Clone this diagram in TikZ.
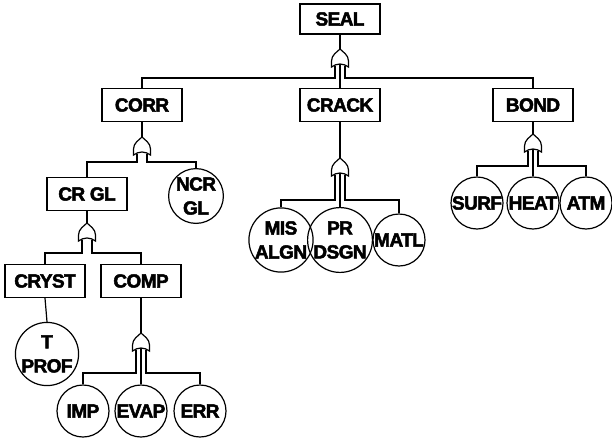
\documentclass[tikz,border=0pt]{standalone}
\usepackage{fontspec}
\setmainfont{Liberation Sans}[BoldFeatures={FakeBold=2.5,LetterSpace=-3}]
\begin{document}
\begin{tikzpicture}[x=1pt,y=-1pt,
  txt/.style={font=\bfseries\fontsize{19}{24}\selectfont},
  evbox/.style={txt, draw, line width=1.2pt, minimum width=80pt, minimum height=33pt, inner sep=0pt},
  basic/.style={txt, draw, circle, line width=1.2pt, minimum size=52pt, inner sep=0pt, align=center},
  conn/.style={line width=1.2pt},
  gate/.style={line width=1.2pt, fill=white},
  orgate/.pic={
    \draw[gate] (-8.5,9) -- (-8.5,3) .. controls (-8.5,-3) and (-3,-6) .. (0,-9)
       .. controls (3,-6) and (8.5,-3) .. (8.5,3) -- (8.5,9)
       .. controls (3,5) and (-3,5) .. cycle;
    \coordinate (-top) at (0,-9);
    \coordinate (-l) at (-5,7.6);
    \coordinate (-c) at (0,6.2);
    \coordinate (-r) at (5,7.6);
  }
]
\useasboundingbox (0,0) rectangle (612,439);

% events
\node[evbox, minimum height=30pt] (seal) at (340,19) {SEAL};
\node[evbox] (corr)  at (142,105) {CORR};
\node[evbox] (crack) at (340,105) {CRACK};
\node[evbox] (bond)  at (533,105) {BOND};
\node[evbox] (crgl)  at (87,194) {CR GL};
\node[basic] (ncrgl) at (196,196) {NCR\\GL};
\node[basic] (mis)   at (281,240) {MIS\\ALGN};
\node[basic] (pr)    at (340,240) {PR\\DSGN};
\node[basic] (matl)  at (399,240) {MATL};
\node[basic] (surf)  at (477,203) {SURF};
\node[basic] (heat)  at (533,203) {HEAT};
\node[basic] (atm)   at (586,203) {ATM};
\node[evbox] (cryst) at (45,281) {CRYST};
\node[evbox] (comp)  at (141,281) {COMP};
\node[basic] (tprof) at (47,354) {T\\PROF};
\node[basic] (imp)   at (83,411) {IMP};
\node[basic] (evap)  at (141,411) {EVAP};
\node[basic] (err)   at (200,411) {ERR};

% branch levels
\coordinate (b1) at (0,78);
\coordinate (b2) at (0,162);
\coordinate (b3) at (0,200);
\coordinate (b4) at (0,166);
\coordinate (b5) at (0,253);
\coordinate (b6) at (0,373);

% gates
\pic (g1) at (340,58) {orgate};
\pic (g2) at (142,146) {orgate};
\pic (g3) at (340,167) {orgate};
\pic (g4) at (533,143) {orgate};
\pic (g5) at (87,232) {orgate};
\pic (g6) at (141,342) {orgate};

% connectors
\draw[conn] (seal.south) -- (g1-top);
\draw[conn] (g1-l) -- (g1-l |- b1) -| (corr.north);
\draw[conn] (g1-c) -- (crack.north);
\draw[conn] (g1-r) -- (g1-r |- b1) -| (bond.north);

\draw[conn] (corr.south) -- (g2-top);
\draw[conn] (g2-l) -- (g2-l |- b2) -| (crgl.north);
\draw[conn] (g2-r) -- (g2-r |- b2) -| (ncrgl.north);

\draw[conn] (crack.south) -- (g3-top);
\draw[conn] (g3-l) -- (g3-l |- b3) -| (mis.north);
\draw[conn] (g3-c) -- (pr.north);
\draw[conn] (g3-r) -- (g3-r |- b3) -| (matl.north);

\draw[conn] (bond.south) -- (g4-top);
\draw[conn] (g4-l) -- (g4-l |- b4) -| (surf.north);
\draw[conn] (g4-c) -- (heat.north);
\draw[conn] (g4-r) -- (g4-r |- b4) -| (atm.north);

\draw[conn] (crgl.south) -- (g5-top);
\draw[conn] (g5-l) -- (g5-l |- b5) -| (cryst.north);
\draw[conn] (g5-r) -- (g5-r |- b5) -| (comp.north);

\draw[conn] (cryst.south) -- (tprof.north);

\draw[conn] (comp.south) -- (g6-top);
\draw[conn] (g6-l) -- (g6-l |- b6) -| (imp.north);
\draw[conn] (g6-c) -- (evap.north);
\draw[conn] (g6-r) -- (g6-r |- b6) -| (err.north);
\end{tikzpicture}
\end{document}
